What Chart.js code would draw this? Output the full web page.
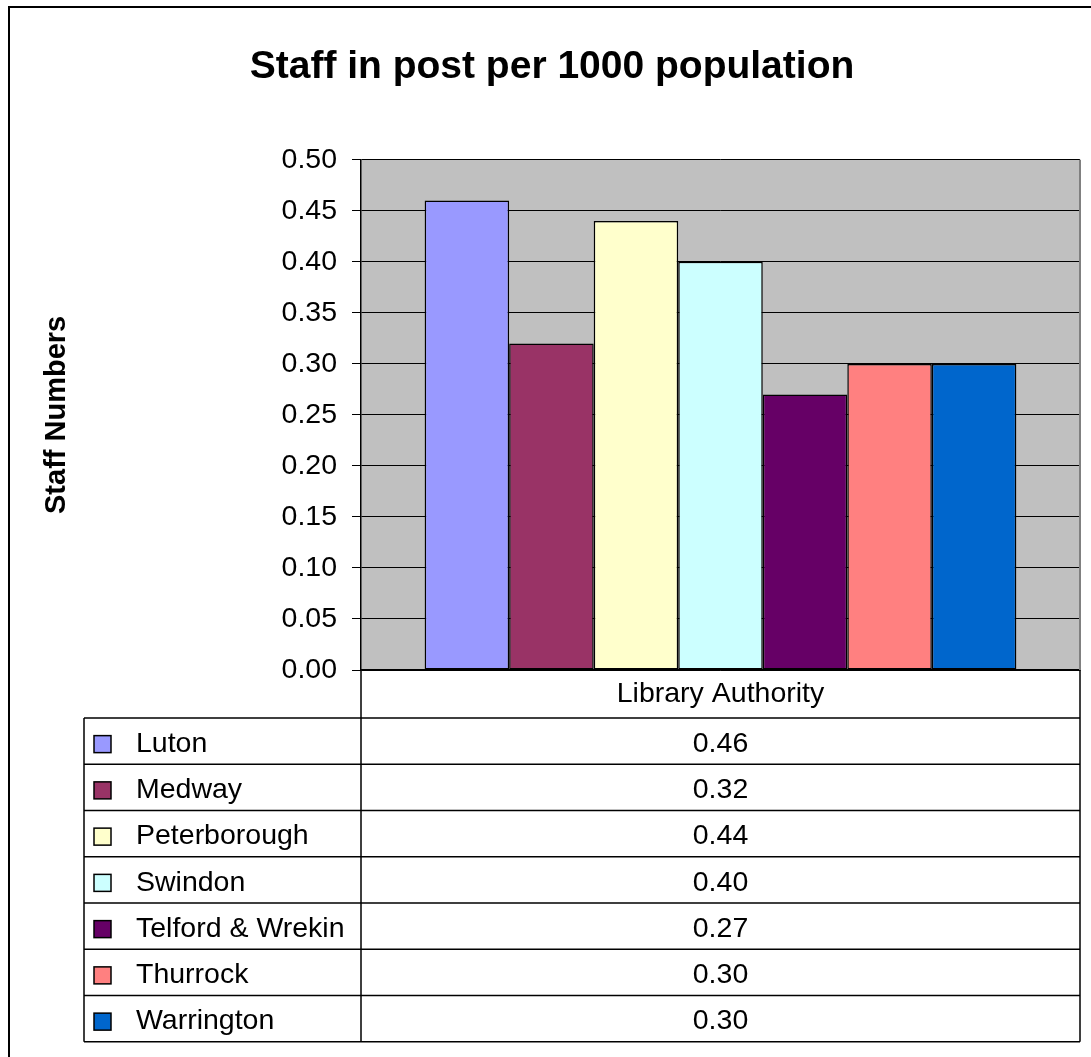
<!DOCTYPE html>
<html>
<head>
<meta charset="utf-8">
<title>Staff in post per 1000 population</title>
<script src="https://cdn.jsdelivr.net/npm/chart.js@4"></script>
<style>
    html, body { margin: 0; padding: 0; background: #ffffff; }
    canvas { display: block; }
</style>
</head>
<body>
<canvas id="chart-staff" width="1091" height="1057"></canvas>
<script>
// Staff in post per 1000 population - grafico com tabela de dados

const category = 'Library Authority';
const authorities = ['Luton', 'Medway', 'Peterborough', 'Swindon', 'Telford & Wrekin', 'Thurrock', 'Warrington'];
const staffPer1000 = [0.46, 0.32, 0.44, 0.40, 0.27, 0.30, 0.30];
const barColours = ['#9999FF', '#993366', '#FFFFCC', '#CCFFFF', '#660066', '#FF8080', '#0066CC'];
const yTicks = { min: 0, max: 0.5, step: 0.05 };

const FONT = '"Liberation Sans", Arial, sans-serif';
const TEXT_SIZE = 28.5;
Chart.defaults.font.family = FONT;
Chart.defaults.color = '#000000';

// Moldura do grafico e fundo cinza da area de plotagem
const plotFrame = {
    id: 'plotFrame',
    afterLayout(chart) {
        // a moldura externa passa da borda direita, o titulo fica centrado nela
        if (chart.titleBlock) {
            chart.titleBlock.right += 24;
        }
    },
    beforeDraw(chart) {
        const { ctx, chartArea: a } = chart;
        ctx.save();
        ctx.strokeStyle = '#000000';
        ctx.lineWidth = 2;
        ctx.strokeRect(9, 7, chart.width + 20, chart.height + 20);
        ctx.fillStyle = '#C0C0C0';
        ctx.fillRect(a.left, a.top, a.right - a.left, a.bottom - a.top);
        ctx.restore();
    },
    afterDatasetsDraw(chart) {
        const { ctx, chartArea: a } = chart;
        ctx.save();
        ctx.strokeStyle = '#808080';
        ctx.lineWidth = 2;
        ctx.beginPath();
        ctx.moveTo(a.right, a.top);
        ctx.lineTo(a.right, a.bottom);
        ctx.stroke();
        ctx.restore();
    }
};

// Tabela de dados por baixo do eixo X (legenda + valores)
const dataTable = {
    id: 'dataTable',
    afterDraw(chart) {
        const { ctx, chartArea: a } = chart;
        const left = 84;
        const top = a.bottom + 48;
        const rowH = 46.25;
        const bottom = top + rowH * authorities.length;
        const midX = (a.left + a.right) / 2;

        ctx.save();
        ctx.strokeStyle = '#000000';
        ctx.lineWidth = 1.5;
        ctx.beginPath();
        ctx.moveTo(a.left, a.bottom);
        ctx.lineTo(a.left, bottom);
        ctx.moveTo(a.right, a.bottom);
        ctx.lineTo(a.right, bottom);
        ctx.moveTo(left, top);
        ctx.lineTo(left, bottom);
        for (let i = 0; i <= authorities.length; i++) {
            const y = top + rowH * i;
            ctx.moveTo(left, y);
            ctx.lineTo(a.right, y);
        }
        ctx.stroke();

        ctx.font = TEXT_SIZE + 'px ' + FONT;
        ctx.textBaseline = 'middle';
        chart.data.datasets.forEach((ds, i) => {
            const cy = top + rowH * i + rowH / 2 + 3;
            // chave da legenda
            ctx.fillStyle = ds.backgroundColor;
            ctx.fillRect(94, cy - 8.5, 17, 17);
            ctx.strokeStyle = '#000000';
            ctx.lineWidth = 1.5;
            ctx.strokeRect(94, cy - 8.5, 17, 17);
            ctx.fillStyle = '#000000';
            ctx.textAlign = 'left';
            ctx.fillText(ds.label, 136, cy);
            ctx.textAlign = 'center';
            ctx.fillText(ds.data[0].toFixed(2), midX, cy);
        });
        ctx.restore();
    }
};

const datasets = authorities.map((name, i) => ({
    label: name,
    data: [staffPer1000[i]],
    backgroundColor: barColours[i],
    borderColor: '#000000',
    borderWidth: 1.5,
    borderSkipped: false,
    barPercentage: 1.0,
    categoryPercentage: 0.823
}));

new Chart(document.getElementById('chart-staff'), {
    type: 'bar',
    data: {
        labels: [category],
        datasets: datasets
    },
    options: {
        responsive: false,
        animation: false,
        layout: {
            padding: { left: 0, right: 11, top: 0, bottom: 0 }
        },
        plugins: {
            legend: { display: false },
            tooltip: { enabled: false },
            title: {
                display: true,
                text: 'Staff in post per 1000 population',
                color: '#000000',
                font: { size: 39, weight: 'bold' },
                padding: { top: 44, bottom: 69 }
            }
        },
        scales: {
            x: {
                grid: { display: false, drawTicks: false },
                border: { display: true, color: '#000000', width: 1.5 },
                ticks: {
                    color: '#000000',
                    font: { size: TEXT_SIZE },
                    padding: 7,
                    maxRotation: 0
                },
                afterFit(scale) {
                    scale.height = 387;
                }
            },
            y: {
                min: yTicks.min,
                max: yTicks.max,
                grid: {
                    color: '#000000',
                    lineWidth: 1,
                    tickColor: '#000000',
                    tickLength: 9
                },
                border: { display: true, color: '#000000', width: 1.5 },
                ticks: {
                    stepSize: yTicks.step,
                    color: '#000000',
                    font: { size: TEXT_SIZE },
                    padding: 15,
                    callback: function(value) {
                        return value.toFixed(2);
                    }
                },
                title: {
                    display: true,
                    text: 'Staff Numbers',
                    color: '#000000',
                    font: { size: 29, weight: 'bold' },
                    padding: { top: 40, bottom: 0 }
                },
                afterFit(scale) {
                    scale.width = 361;
                }
            }
        }
    },
    plugins: [plotFrame, dataTable]
});
</script>
</body>
</html>
